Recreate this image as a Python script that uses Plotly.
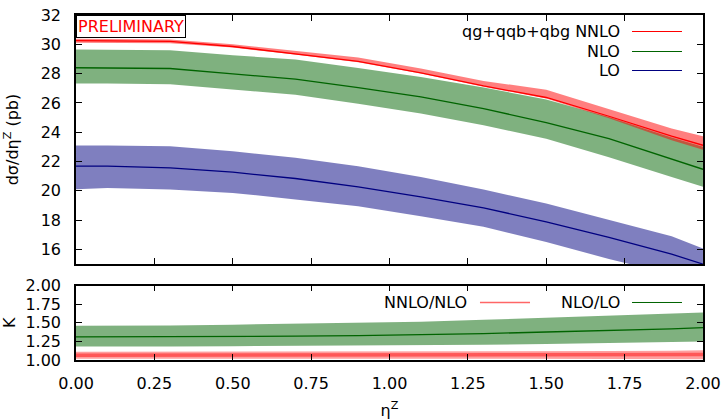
import plotly.graph_objects as go

# ---- data ----
eta = [0.0, 0.1, 0.3, 0.5, 0.7, 0.9, 1.1, 1.3, 1.5, 1.7, 1.9, 2.0]

nnlo    = [30.25, 30.25, 30.20, 29.85, 29.37, 28.84, 28.05, 27.16, 26.37, 25.09, 23.73, 23.11]
nnlo_hi = [30.38, 30.38, 30.33, 30.00, 29.55, 29.10, 28.35, 27.50, 26.90, 25.55, 24.25, 23.73]
nnlo_lo = [30.10, 30.10, 30.07, 29.78, 29.30, 28.78, 28.00, 27.10, 26.30, 24.95, 23.45, 22.80]

nlo    = [28.40, 28.40, 28.35, 27.98, 27.63, 27.04, 26.41, 25.61, 24.66, 23.57, 22.20, 21.47]
nlo_hi = [29.64, 29.64, 29.60, 29.25, 28.96, 28.38, 27.77, 27.05, 26.23, 25.04, 23.64, 23.00]
nlo_lo = [27.32, 27.32, 27.28, 26.90, 26.55, 25.95, 25.28, 24.48, 23.55, 22.30, 20.95, 20.27]

lo    = [21.68, 21.68, 21.56, 21.27, 20.84, 20.27, 19.58, 18.84, 17.88, 16.82, 15.68, 15.00]
lo_hi = [23.10, 23.10, 23.04, 22.70, 22.25, 21.68, 20.95, 20.09, 19.14, 18.04, 16.90, 16.07]
lo_lo = [20.10, 20.20, 20.09, 19.86, 19.41, 18.95, 18.27, 17.54, 16.50, 15.35, 14.30, 13.70]

k_nlo    = [1.310, 1.310, 1.313, 1.315, 1.320, 1.327, 1.338, 1.355, 1.377, 1.395, 1.418, 1.435]
k_nlo_hi = [1.460, 1.460, 1.465, 1.475, 1.485, 1.500, 1.515, 1.540, 1.570, 1.600, 1.625, 1.640]
k_nlo_lo = [1.180, 1.180, 1.182, 1.185, 1.187, 1.190, 1.198, 1.205, 1.215, 1.228, 1.242, 1.250]

k_nnlo    = [1.065, 1.065, 1.065, 1.065, 1.065, 1.065, 1.065, 1.066, 1.067, 1.068, 1.071, 1.074]
k_nnlo_hi = [1.112, 1.112, 1.112, 1.112, 1.113, 1.113, 1.114, 1.115, 1.117, 1.120, 1.125, 1.132]
k_nnlo_lo = [1.018, 1.018, 1.018, 1.018, 1.018, 1.017, 1.017, 1.016, 1.015, 1.014, 1.012, 1.010]

y_ticks = [16, 18, 20, 22, 24, 26, 28, 30, 32]
k_ticks = [1.00, 1.25, 1.50, 1.75, 2.00]
x_ticks = [0.0, 0.25, 0.5, 0.75, 1.0, 1.25, 1.5, 1.75, 2.0]

FONT = "DejaVu Sans"
RED, GREEN, BLUE = "#ff0000", "#006400", "#000080"

fig = go.Figure()


def band(x, hi, lo_, color, xa="x", ya="y"):
    fig.add_trace(go.Scatter(x=list(x) + list(x)[::-1], y=list(hi) + list(lo_)[::-1],
                             fill="toself", fillcolor=color, line=dict(width=0),
                             mode="lines", hoverinfo="skip", showlegend=False,
                             xaxis=xa, yaxis=ya))


def line(x, y, color, width=1.3, xa="x", ya="y"):
    fig.add_trace(go.Scatter(x=x, y=y, mode="lines", line=dict(color=color, width=width),
                             showlegend=False, xaxis=xa, yaxis=ya))


# main panel
band(eta, lo_hi, lo_lo, "rgba(0,0,128,0.5)")
band(eta, nlo_hi, nlo_lo, "rgba(0,100,0,0.5)")
band(eta, nnlo_hi, nnlo_lo, "rgba(255,0,0,0.5)")
line(eta, lo, BLUE)
line(eta, nlo, GREEN)
line(eta, nnlo, RED)

# ratio panel
band(eta, k_nlo_hi, k_nlo_lo, "rgba(0,100,0,0.5)", "x2", "y2")
band(eta, k_nnlo_hi, k_nnlo_lo, "rgba(255,0,0,0.38)", "x2", "y2")
line(eta, k_nlo, GREEN, 1.3, "x2", "y2")
line(eta, k_nnlo, "rgba(255,0,0,0.45)", 3.5, "x2", "y2")

axis_common = dict(showline=True, linecolor="black", linewidth=1.5, mirror="ticks",
                   ticks="inside", ticklen=6, tickcolor="black", tickwidth=1,
                   showgrid=False, zeroline=False, automargin=False,
                   tickfont=dict(family=FONT, size=16, color="black"))

fig.update_layout(
    width=722, height=420,
    margin=dict(l=76, r=19, t=15, b=60),
    paper_bgcolor="white", plot_bgcolor="white",
    showlegend=False,
    font=dict(family=FONT, size=16, color="black"),
    xaxis=dict(axis_common, domain=[0, 1], anchor="y", range=[-0.0001, 2.0001],
               tickvals=x_ticks, showticklabels=False),
    yaxis=dict(axis_common, domain=[0.278, 1], anchor="x", range=[15, 32.0001],
               tickvals=y_ticks, ticklabelstandoff=10,
               title=dict(text="dσ/dη<sup>Z</sup> (pb)", standoff=18,
                          font=dict(family=FONT, size=16))),
    xaxis2=dict(axis_common, domain=[0, 1], anchor="y2", range=[-0.0001, 2.0001],
                tickvals=x_ticks, tickformat=".2f", ticklabelstandoff=8,
                title=dict(text="η<sup>Z</sup>", standoff=14,
                           font=dict(family=FONT, size=16))),
    yaxis2=dict(axis_common, domain=[0, 0.2154], anchor="x2", range=[0.9999, 2.0001],
                tickvals=k_ticks, tickformat=".2f", ticklabelstandoff=10,
                title=dict(text="K", standoff=8, font=dict(family=FONT, size=16))),
)

# PRELIMINARY label
fig.add_annotation(xref="paper", yref="paper", x=0, y=1, xanchor="left", yanchor="top",
                   text="PRELIMINARY", showarrow=False,
                   font=dict(family=FONT, size=16, color="red"),
                   bgcolor="white", bordercolor="black", borderwidth=1, borderpad=1)

# key (gnuplot style: text right, sample line after)
def key(text, ytop, xr, x0, x1, color, width=1.0):
    fig.add_annotation(xref="paper", yref="paper", x=xr, y=ytop, xanchor="right",
                       yanchor="middle", text=text, showarrow=False,
                       font=dict(family=FONT, size=16, color="black"))
    fig.add_shape(type="line", xref="paper", yref="paper", x0=x0, x1=x1, y0=ytop, y1=ytop,
                  line=dict(color=color, width=width))

key("qg+qqb+qbg NNLO", 0.95217, 0.8703, 0.8868, 0.9665, RED)
key("NLO", 0.89420, 0.8703, 0.8868, 0.9665, GREEN)
key("LO", 0.83913, 0.8703, 0.8868, 0.9665, BLUE)
key("NNLO/NLO", 0.16667, 0.6268, 0.6443, 0.7241, "rgba(255,0,0,0.6)", 1.6)
key("NLO/LO", 0.16667, 0.8703, 0.8868, 0.9665, GREEN)

fig.write_html("out.html")
